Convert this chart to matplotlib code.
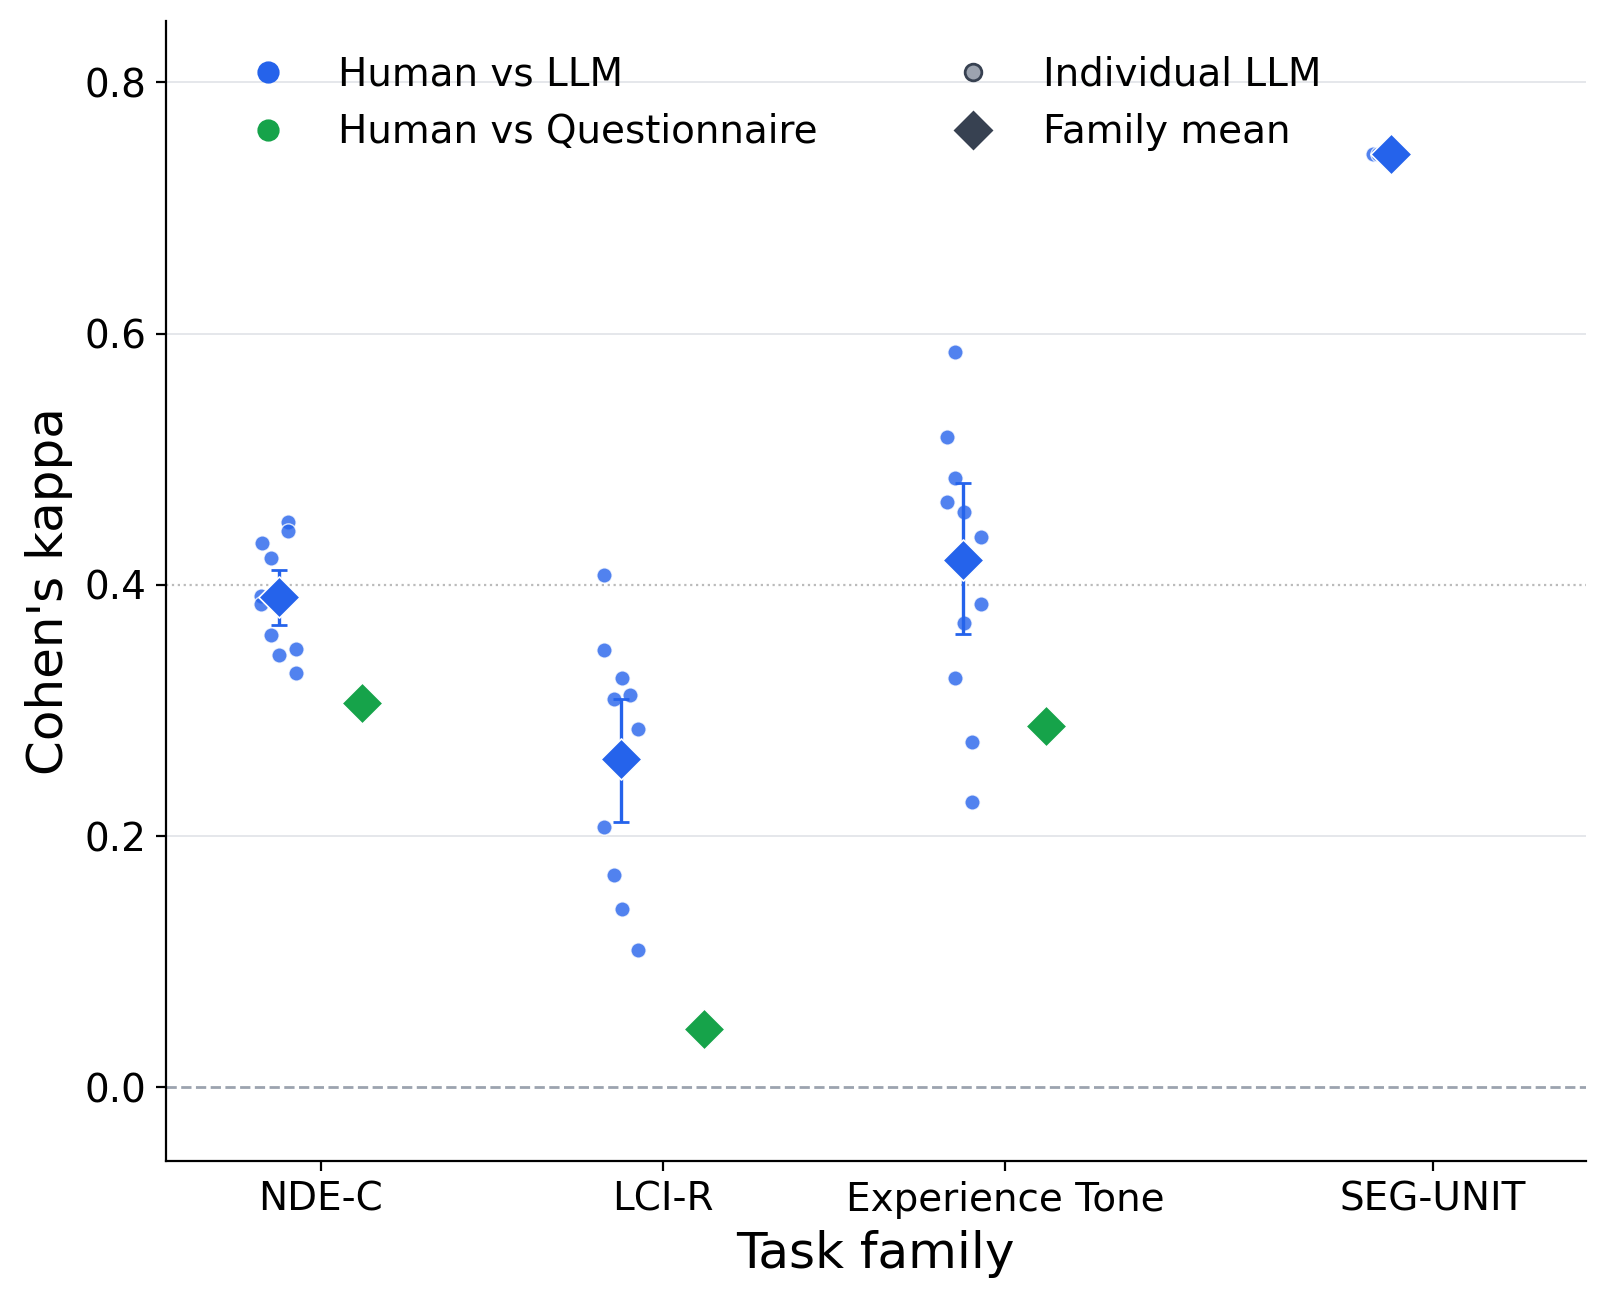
import matplotlib.pyplot as plt
import numpy as np

families = ["NDE-C", "LCI-R", "Experience Tone", "SEG-UNIT"]
family_x = [0.0, 1.0, 2.0, 3.25]

# individual LLM kappas and their jitter offsets
llm_vals = [
    [0.433, 0.421, 0.450, 0.443, 0.391, 0.385, 0.360, 0.344, 0.349, 0.330],
    [0.408, 0.348, 0.326, 0.309, 0.312, 0.285, 0.207, 0.169, 0.142, 0.109],
    [0.585, 0.518, 0.485, 0.466, 0.458, 0.438, 0.385, 0.370, 0.326, 0.275, 0.227],
    [0.743, 0.743],
]
llm_jitter = [
    [-0.171, -0.147, -0.096, -0.096, -0.174, -0.174, -0.147, -0.123, -0.072, -0.072],
    [-0.171, -0.171, -0.120, -0.144, -0.096, -0.072, -0.171, -0.144, -0.120, -0.072],
    [-0.147, -0.171, -0.147, -0.171, -0.120, -0.072, -0.072, -0.120, -0.147, -0.096, -0.096],
    [-0.174, -0.160],
]
llm_mean = [0.390, 0.261, 0.420, 0.743]
llm_err_lo = [0.368, 0.211, 0.361, None]
llm_err_hi = [0.412, 0.309, 0.481, None]
quest_vals = [0.306, 0.046, 0.288, None]

BLUE = "#2563eb"
GREEN = "#16a34a"
DARK = "#374151"

fig, ax = plt.subplots(figsize=(8.05, 6.51), dpi=200)
fig.subplots_adjust(left=0.103, right=0.985, top=0.984, bottom=0.108)

ax.axhline(0, color="#9ca3af", ls="--", lw=1.0, zorder=1)
ax.axhline(0.4, color="#bbbbbb", ls=":", lw=0.8, zorder=1)
for y in [0.2, 0.6, 0.8]:
    ax.axhline(y, color="#e5e7eb", lw=0.7, zorder=0)

for i, xc in enumerate(family_x):
    xl = xc - 0.123
    xs = xc + np.array(llm_jitter[i])
    ax.scatter(xs, llm_vals[i], s=30, color=BLUE, alpha=0.8, edgecolor="white", linewidth=0.5, zorder=3)
    if llm_err_lo[i] is not None:
        m = llm_mean[i]
        ax.errorbar([xl], [m], yerr=[[m - llm_err_lo[i]], [llm_err_hi[i] - m]], fmt="none",
                    ecolor=BLUE, elinewidth=1.2, capsize=3, zorder=4)
    ax.scatter([xl], [llm_mean[i]], marker="D", s=110, color=BLUE, edgecolor="white", linewidth=0.6, zorder=5)
    if quest_vals[i] is not None:
        ax.scatter([xc + 0.12], [quest_vals[i]], marker="D", s=110, color=GREEN, edgecolor="white",
                   linewidth=0.6, zorder=5)

ax.set_xticks(family_x)
ax.set_xticklabels(families, fontsize=14)
ax.tick_params(axis="y", labelsize=14)
ax.set_xlim(-0.453, 3.697)
ax.set_ylim(-0.059, 0.849)
ax.set_yticks([0.0, 0.2, 0.4, 0.6, 0.8])
ax.set_xlabel("Task family", fontsize=18)
ax.set_ylabel("Cohen's kappa", fontsize=18)
ax.spines["top"].set_visible(False)
ax.spines["right"].set_visible(False)

h = [
    plt.Line2D([], [], marker="o", ls="", color=BLUE, ms=7),
    plt.Line2D([], [], marker="o", ls="", color=GREEN, ms=7),
    plt.Line2D([], [], marker="o", ls="", color="#9ca3af", mec=DARK, ms=6),
    plt.Line2D([], [], marker="D", ls="", color=DARK, ms=9),
]
ax.legend(h, ["Human vs LLM", "Human vs Questionnaire", "Individual LLM", "Family mean"],
          ncol=2, loc="upper left", frameon=False, fontsize=14, columnspacing=3.0,
          bbox_to_anchor=(0.02, 1.0))

fig.savefig("out.png", dpi=200)
